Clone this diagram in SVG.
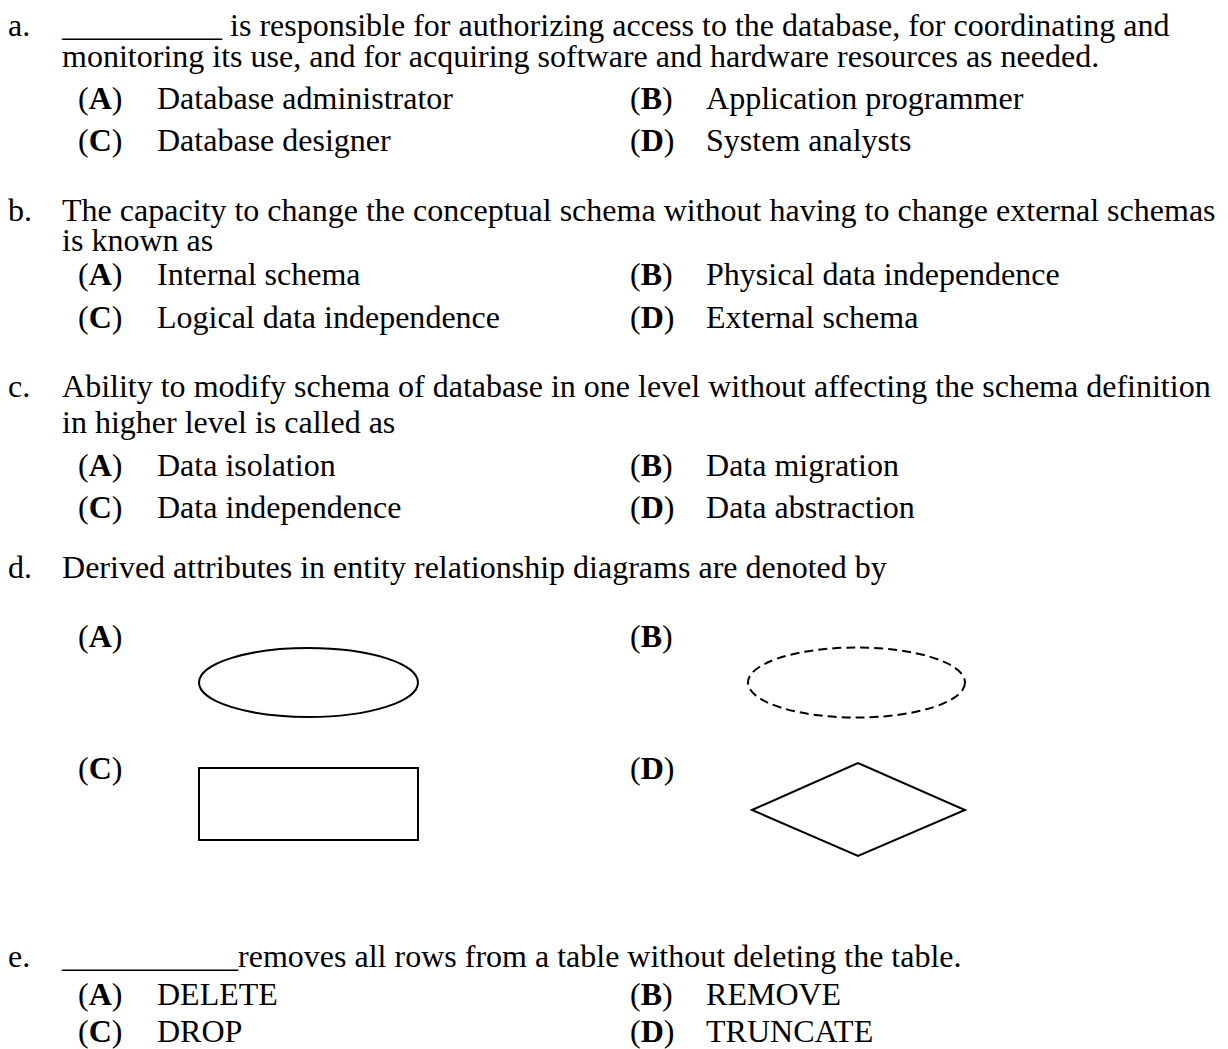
<svg xmlns="http://www.w3.org/2000/svg" width="1228" height="1049" viewBox="0 0 1228 1049">
<style>
.t{font-family:"Liberation Serif","Times New Roman",serif;font-size:32.5px;fill:#000}
.b{font-weight:bold}
.s{fill:none;stroke:#000;stroke-width:2}
.d{stroke-dasharray:9 5}
</style>
<rect width="1228" height="1049" fill="#fff"/>
<g transform="scale(0.985 1)">
<g id="qa">
<text class="t" x="8.1" y="36">a.</text>
<text class="t" x="63" y="36">__________ is responsible for authorizing access to the database, for coordinating and</text>
<text class="t" x="63" y="67">monitoring its use, and for acquiring software and hardware resources as needed.</text>
<text class="t" x="79.2" y="109">(<tspan class="b">A</tspan>)</text><text class="t" x="159.4" y="109">Database administrator</text>
<text class="t" x="639.6" y="109">(<tspan class="b">B</tspan>)</text><text class="t" x="716.8" y="109">Application programmer</text>
<text class="t" x="79.2" y="151">(<tspan class="b">C</tspan>)</text><text class="t" x="159.4" y="151">Database designer</text>
<text class="t" x="639.6" y="151">(<tspan class="b">D</tspan>)</text><text class="t" x="716.8" y="151">System analysts</text>
</g>
<g id="qb">
<text class="t" x="8.1" y="221">b.</text>
<text class="t" x="63" y="221">The capacity to change the conceptual schema without having to change external schemas</text>
<text class="t" x="63" y="251">is known as</text>
<text class="t" x="79.2" y="285">(<tspan class="b">A</tspan>)</text><text class="t" x="159.4" y="285">Internal schema</text>
<text class="t" x="639.6" y="285">(<tspan class="b">B</tspan>)</text><text class="t" x="716.8" y="285">Physical data independence</text>
<text class="t" x="79.2" y="328">(<tspan class="b">C</tspan>)</text><text class="t" x="159.4" y="328">Logical data independence</text>
<text class="t" x="639.6" y="328">(<tspan class="b">D</tspan>)</text><text class="t" x="716.8" y="328">External schema</text>
</g>
<g id="qc">
<text class="t" x="8.1" y="397">c.</text>
<text class="t" x="63" y="397">Ability to modify schema of database in one level without affecting the schema definition</text>
<text class="t" x="63" y="433">in higher level is called as</text>
<text class="t" x="79.2" y="476">(<tspan class="b">A</tspan>)</text><text class="t" x="159.4" y="476">Data isolation</text>
<text class="t" x="639.6" y="476">(<tspan class="b">B</tspan>)</text><text class="t" x="716.8" y="476">Data migration</text>
<text class="t" x="79.2" y="518">(<tspan class="b">C</tspan>)</text><text class="t" x="159.4" y="518">Data independence</text>
<text class="t" x="639.6" y="518">(<tspan class="b">D</tspan>)</text><text class="t" x="716.8" y="518">Data abstraction</text>
</g>
<g id="qd-text">
<text class="t" x="8.1" y="578">d.</text>
<text class="t" x="63" y="578">Derived attributes in entity relationship diagrams are denoted by</text>
<text class="t" x="79.2" y="647">(<tspan class="b">A</tspan>)</text>
<text class="t" x="639.6" y="647">(<tspan class="b">B</tspan>)</text>
<text class="t" x="79.2" y="779">(<tspan class="b">C</tspan>)</text>
<text class="t" x="639.6" y="779">(<tspan class="b">D</tspan>)</text>
</g>
<g id="qe">
<text class="t" x="8.1" y="967">e.</text>
<text class="t" x="63" y="967">___________removes all rows from a table without deleting the table.</text>
<text class="t" x="79.2" y="1005">(<tspan class="b">A</tspan>)</text><text class="t" x="159.4" y="1005">DELETE</text>
<text class="t" x="639.6" y="1005">(<tspan class="b">B</tspan>)</text><text class="t" x="716.8" y="1005">REMOVE</text>
<text class="t" x="79.2" y="1042">(<tspan class="b">C</tspan>)</text><text class="t" x="159.4" y="1042">DROP</text>
<text class="t" x="639.6" y="1042">(<tspan class="b">D</tspan>)</text><text class="t" x="716.8" y="1042">TRUNCATE</text>
</g>
</g>
<g id="qd-shapes">
<g id="shapeA"><ellipse class="s" cx="308.5" cy="682.5" rx="109.5" ry="34.5"/></g>
<g id="shapeB"><ellipse class="s d" cx="856.5" cy="682.5" rx="108.5" ry="35"/></g>
<g id="shapeC"><rect class="s" x="199" y="768" width="219" height="72"/></g>
<g id="shapeD"><polygon class="s" points="752,810 858,763 965,810 858,856"/></g>
</g>
</svg>
